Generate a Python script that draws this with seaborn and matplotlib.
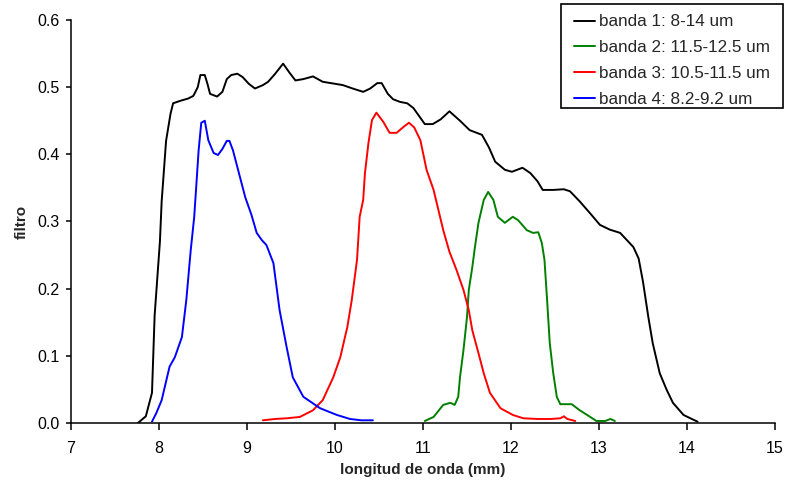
import matplotlib
matplotlib.use("Agg")
import matplotlib.pyplot as plt
from matplotlib.patches import Rectangle
from matplotlib.transforms import Bbox, TransformedBbox
import pandas as pd
import seaborn as sns

# Filter response curves for each band (wavelength in micrometres)
band_labels = ["banda 1: 8-14 um", "banda 2: 11.5-12.5 um",
               "banda 3: 10.5-11.5 um", "banda 4: 8.2-9.2 um"]
band_colors = ["#000000", "#008000", "#ff0000", "#0000ff"]

b1_x = [7.76, 7.85, 7.92, 7.95, 8.01, 8.03, 8.08, 8.13, 8.16, 8.25, 8.33, 8.39,
        8.44, 8.47, 8.52, 8.55, 8.58, 8.66, 8.72, 8.77, 8.82, 8.89, 8.95, 9.02,
        9.09, 9.18, 9.24, 9.32, 9.41, 9.48, 9.55, 9.64, 9.75, 9.86, 10.0, 10.09,
        10.2, 10.32, 10.4, 10.48, 10.53, 10.6, 10.66, 10.74, 10.82, 10.89, 10.95,
        11.02, 11.11, 11.2, 11.3, 11.42, 11.53, 11.67, 11.75, 11.82, 11.93, 12.01,
        12.13, 12.22, 12.3, 12.36, 12.48, 12.6, 12.67, 12.78, 12.9, 13.01, 13.12,
        13.24, 13.39, 13.45, 13.5, 13.56, 13.61, 13.69, 13.77, 13.84, 13.96,
        14.07, 14.12]
b1_y = [0.0, 0.01, 0.045, 0.16, 0.27, 0.33, 0.42, 0.46, 0.476, 0.48, 0.483, 0.487,
        0.5, 0.518, 0.518, 0.505, 0.49, 0.486, 0.493, 0.512, 0.518, 0.52, 0.515,
        0.505, 0.498, 0.503, 0.508, 0.52, 0.535, 0.522, 0.51, 0.512, 0.516, 0.508,
        0.505, 0.503, 0.498, 0.493, 0.498, 0.506, 0.506, 0.49, 0.482, 0.478, 0.476,
        0.469, 0.458, 0.445, 0.445, 0.452, 0.464, 0.45, 0.436, 0.429, 0.41, 0.389,
        0.377, 0.374, 0.38, 0.372, 0.36, 0.347, 0.347, 0.348, 0.345, 0.33, 0.312,
        0.295, 0.288, 0.283, 0.262, 0.245, 0.21, 0.158, 0.119, 0.074, 0.049, 0.03,
        0.012, 0.005, 0.002]

b2_x = [11.02, 11.12, 11.23, 11.31, 11.36, 11.4, 11.42, 11.46, 11.5, 11.52, 11.56,
        11.59, 11.63, 11.69, 11.74, 11.8, 11.85, 11.93, 12.02, 12.08, 12.18, 12.25,
        12.31, 12.35, 12.38, 12.41, 12.44, 12.48, 12.52, 12.56, 12.69, 12.78, 12.9,
        12.97, 13.07, 13.13, 13.18]
b2_y = [0.003, 0.009, 0.027, 0.03, 0.027, 0.039, 0.068, 0.109, 0.158, 0.198, 0.232,
        0.262, 0.298, 0.332, 0.344, 0.332, 0.307, 0.298, 0.307, 0.302, 0.287, 0.283,
        0.284, 0.268, 0.243, 0.183, 0.119, 0.074, 0.039, 0.028, 0.028, 0.019, 0.009,
        0.003, 0.003, 0.006, 0.003]

b3_x = [9.18, 9.32, 9.45, 9.6, 9.75, 9.86, 9.98, 10.06, 10.14, 10.19, 10.25, 10.28,
        10.32, 10.34, 10.38, 10.42, 10.47, 10.55, 10.62, 10.70, 10.78, 10.84, 10.9,
        10.97, 11.04, 11.12, 11.23, 11.30, 11.38, 11.46, 11.52, 11.56, 11.63, 11.69,
        11.76, 11.88, 12.02, 12.14, 12.3, 12.45, 12.56, 12.6, 12.64, 12.73]
b3_y = [0.004, 0.006, 0.007, 0.009, 0.019, 0.034, 0.068, 0.098, 0.143, 0.183, 0.243,
        0.307, 0.332, 0.372, 0.417, 0.451, 0.462, 0.448, 0.432, 0.432, 0.441, 0.447,
        0.44, 0.421, 0.377, 0.347, 0.287, 0.255, 0.228, 0.198, 0.168, 0.138, 0.104,
        0.074, 0.045, 0.022, 0.012, 0.007, 0.006, 0.006, 0.007, 0.01, 0.006, 0.003]

b4_x = [7.92, 7.97, 8.03, 8.12, 8.18, 8.26, 8.31, 8.36, 8.40, 8.45, 8.48, 8.52,
        8.56, 8.62, 8.67, 8.72, 8.77, 8.8, 8.84, 8.92, 8.98, 9.05, 9.11, 9.17, 9.22,
        9.30, 9.37, 9.45, 9.52, 9.64, 9.83, 10.02, 10.17, 10.3, 10.43]
b4_y = [0.002, 0.015, 0.034, 0.084, 0.098, 0.128, 0.183, 0.257, 0.307, 0.406, 0.447,
        0.45, 0.421, 0.402, 0.399, 0.408, 0.42, 0.42, 0.406, 0.366, 0.336, 0.31,
        0.283, 0.272, 0.265, 0.238, 0.168, 0.113, 0.068, 0.039, 0.022, 0.012, 0.006,
        0.004, 0.004]

x_ticks = [7, 8, 9, 10, 11, 12, 13, 14, 15]
y_ticks = [0.0, 0.1, 0.2, 0.3, 0.4, 0.5, 0.6]

frames = []
for lab, xs, ys in zip(band_labels, [b1_x, b2_x, b3_x, b4_x], [b1_y, b2_y, b3_y, b4_y]):
    frames.append(pd.DataFrame({"longitud": xs, "filtro": ys, "banda": lab}))
df = pd.concat(frames, ignore_index=True)

sns.set_style("white")
plt.rcParams["font.family"] = ["Liberation Sans", "DejaVu Sans"]

W, H = 791, 491
fig = plt.figure(figsize=(W / 100, H / 100), dpi=100)
ax = fig.add_axes([0.0898, 0.1385, 0.890, 0.8208])

sns.lineplot(data=df, x="longitud", y="filtro", hue="banda", hue_order=band_labels,
             palette=dict(zip(band_labels, band_colors)), sort=False,
             estimator=None, linewidth=1.4, ax=ax)

ax.set_xlim(7, 15)
ax.set_ylim(0, 0.6)
ax.set_xticks(x_ticks)
ax.set_yticks(y_ticks)
ax.set_xticklabels([str(t) for t in x_ticks])
ax.set_yticklabels([f"{t:.1f}" for t in y_ticks])
ax.tick_params(axis="both", which="major", direction="out", width=1.1,
               color="black", labelsize=11.5, labelcolor="black",
               bottom=True, left=True)
ax.tick_params(axis="y", length=3.5, pad=4.5)
ax.tick_params(axis="x", length=5, pad=8)

for side in ["top", "right"]:
    ax.spines[side].set_visible(False)
for side in ["left", "bottom"]:
    ax.spines[side].set_color("black")
    ax.spines[side].set_linewidth(1.1)

ax.set_xlabel("longitud de onda (mm)", fontsize=11, fontweight="bold", labelpad=5)
ax.set_ylabel("filtro", fontsize=11, fontweight="bold", labelpad=6)

# Legend box (fixed frame; entries clipped to it)
box_l, box_t, box_r, box_b = 561, 4, 783, 108
frame_bounds = (box_l / W, 1 - box_b / H, (box_r - box_l) / W, (box_b - box_t) / H)
frame = Rectangle(frame_bounds[:2], frame_bounds[2], frame_bounds[3],
                  transform=fig.transFigure, facecolor="white", edgecolor="black",
                  linewidth=1.2, zorder=4)
fig.patches.append(frame)

leg = ax.legend(loc="upper left", bbox_to_anchor=(574 / W, 1 - 14.5 / H),
                bbox_transform=fig.transFigure, fontsize=12.3, frameon=False,
                handlelength=1.25, handletextpad=0.2, labelspacing=0.64,
                borderpad=0, borderaxespad=0)
leg.set_zorder(5)
leg.remove()
fig.add_artist(leg)

clip = TransformedBbox(Bbox.from_bounds(*frame_bounds), fig.transFigure)
for artist in list(leg.get_texts()) + list(leg.get_lines()):
    artist.set_clip_box(clip)
    artist.set_clip_on(True)

fig.savefig("out.png", dpi=100)
